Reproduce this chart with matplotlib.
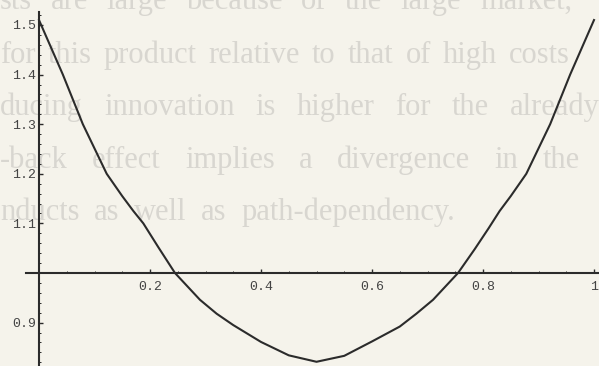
"""U-shaped cost curve drawn Mathematica-style over a printed page."""

import matplotlib
matplotlib.use("Agg")
import matplotlib.pyplot as plt
from matplotlib.ticker import FixedLocator

PAPER = "#f5f3eb"
GHOST = "#d8d6d0"
INK = "#2b2b2b"
MONO = "Liberation Mono"
SERIF = "Liberation Serif"

W_PX, H_PX = 599, 366

# curve samples
x_vals = [0.0, 0.043, 0.079, 0.122, 0.15, 0.17, 0.188, 0.215, 0.245, 0.27,
          0.29, 0.32, 0.35, 0.4, 0.45, 0.5, 0.55, 0.6, 0.65, 0.68,
          0.71, 0.73, 0.755, 0.785, 0.81, 0.83, 0.85, 0.878, 0.921, 0.957,
          1.0]
y_vals = [1.51, 1.40, 1.30, 1.20, 1.155, 1.125, 1.10, 1.052, 1.00, 0.97,
          0.946, 0.918, 0.895, 0.861, 0.834, 0.821, 0.833, 0.862, 0.892, 0.918,
          0.946, 0.97, 1.00, 1.048, 1.09, 1.125, 1.155, 1.20, 1.30, 1.40,
          1.51]

x_ticks = [0.2, 0.4, 0.6, 0.8, 1.0]
x_tick_labels = ["0.2", "0.4", "0.6", "0.8", "1"]
y_ticks = [0.9, 1.1, 1.2, 1.3, 1.4, 1.5]
y_tick_labels = ["0.9", "1.1", "1.2", "1.3", "1.4", "1.5"]

# page text showing through behind the plot
page_lines = [
    "sts are large because of the large market,",
    "for this product relative to that of high costs",
    "ducing innovation is higher for the already",
    "-back effect implies a divergence in the",
    "nducts as well as path-dependency.",
]
# (left px, right px, baseline px)
line_spans = [(0, 572, 9), (0, 570, 63), (0, 600, 115), (0, 580, 168), (0, 455, 220)]


def draw_line(fig, text, x0, x1, y, size):
    """Spread the words of one line evenly between x0 and x1 (pixels)."""
    renderer = fig.canvas.get_renderer()
    words = text.split()
    items = [fig.text(0, 0, w, fontsize=size, family=SERIF, color=GHOST,
                      ha="left", va="baseline", zorder=0) for w in words]
    widths = [t.get_window_extent(renderer).width for t in items]
    gap = (x1 - x0 - sum(widths)) / max(len(words) - 1, 1)
    x = x0
    for t, w in zip(items, widths):
        t.set_position((x / W_PX, 1 - y / H_PX))
        x += w + gap


def make_plot():
    fig = plt.figure(figsize=(W_PX / 100, H_PX / 100), dpi=100)
    fig.patch.set_facecolor(PAPER)

    for text, (x0, x1, y) in zip(page_lines, line_spans):
        draw_line(fig, text, x0, x1, y, 22)

    ax = fig.add_axes([0, 0, 1, 1])
    ax.set_facecolor("none")
    ax.set_zorder(2)

    # origin of the axes sits at (0, 1)
    px_per_x = 555.0
    px_per_y = 496.0
    ax.set_xlim(-39 / px_per_x, (W_PX - 39) / px_per_x)
    ax.set_ylim(1 - (H_PX - 273) / px_per_y, 1 + 273 / px_per_y)

    ax.plot(x_vals, y_vals, color=INK, lw=1.5, solid_joinstyle="round")

    for side in ("top", "right"):
        ax.spines[side].set_visible(False)
    ax.spines["left"].set_position(("data", 0))
    ax.spines["bottom"].set_position(("data", 1))
    ax.spines["left"].set_bounds(ax.get_ylim()[0], 1.527)
    ax.spines["bottom"].set_bounds(-0.023, ax.get_xlim()[1])
    for side in ("left", "bottom"):
        ax.spines[side].set_color(INK)
        ax.spines[side].set_linewidth(1.5)

    ax.set_xticks(x_ticks, x_tick_labels)
    ax.set_yticks(y_ticks, y_tick_labels)
    ax.xaxis.set_minor_locator(FixedLocator([k * 0.05 for k in range(1, 20)]))
    ax.yaxis.set_minor_locator(FixedLocator([0.82 + k * 0.02 for k in range(36)]))
    ax.tick_params(which="major", direction="in", length=3, width=1, color=INK)
    ax.tick_params(which="minor", direction="in", length=1.5, width=0.7, color=INK)
    ax.tick_params(axis="x", which="major", pad=6)
    ax.tick_params(axis="y", which="major", pad=2)
    for lbl in ax.get_xticklabels() + ax.get_yticklabels():
        lbl.set_fontfamily(MONO)
        lbl.set_fontsize(9.5)
        lbl.set_color("#444444")

    fig.savefig("out.png", dpi=100, facecolor=PAPER)
    plt.close(fig)


if __name__ == "__main__":
    make_plot()
